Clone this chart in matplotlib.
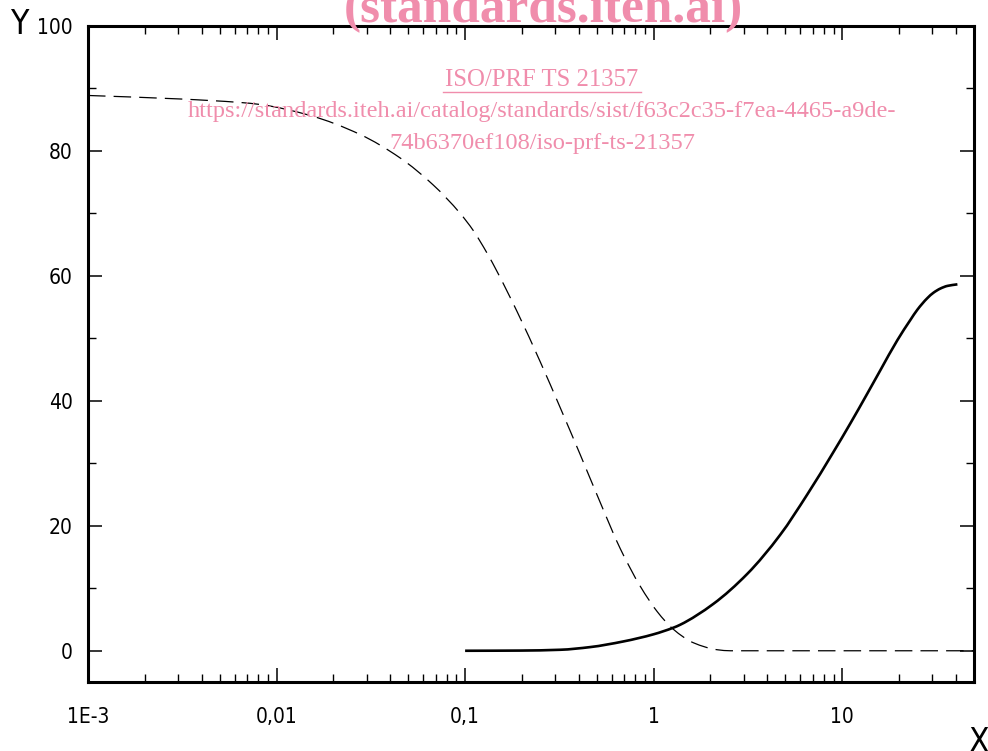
import matplotlib
matplotlib.use('Agg')
import numpy as np
import matplotlib.pyplot as plt
from matplotlib.ticker import FixedLocator, FixedFormatter, NullFormatter
from matplotlib.lines import Line2D
from matplotlib.path import Path
from matplotlib.patches import PathPatch

# ---- data ----
dashed_x = [0.001, 0.003075, 0.006401, 0.008177, 0.01506, 0.02774, 0.04523, 0.06772,
            0.09418, 0.1104, 0.1310, 0.1481, 0.1890, 0.2504, 0.3198, 0.4083, 0.5214,
            0.6657, 0.8502, 1.046, 1.272, 1.625, 2.178, 2.553, 50]
dashed_y = [88.88, 88.32, 87.76, 87.44, 85.68, 82.64, 78.88, 74.56,
            70.0, 67.28, 63.6, 60.64, 54.24, 46.24, 38.88, 31.36, 23.7,
            16.32, 10.3, 6.24, 3.44, 1.28, 0.16, 0.0, 0.0]

solid_x = [0.1, 0.196, 0.3198, 0.4613, 0.6906, 1.0, 1.269, 1.382, 2.07, 3.135, 4.693,
           6.528, 8.97, 11.04, 13.59, 15.94, 19.61, 22.99, 25.04, 28.30, 30.45,
           33.18, 36.14, 40.83]
solid_y = [0.0, 0.03, 0.16, 0.59, 1.49, 2.64, 3.68, 4.16, 7.49, 12.3, 18.57,
           25.02, 31.78, 36.38, 41.17, 44.91, 49.71, 52.95, 54.59, 56.45, 57.3,
           57.98, 58.4, 58.65]

x_major = [0.001, 0.01, 0.1, 1, 10]
x_labels = ["1E-3", "0,01", "0,1", "1", "10"]
x_minor = [m * d for d in [0.001, 0.01, 0.1, 1] for m in range(2, 10)] + [20, 30, 40]
y_major = [0, 20, 40, 60, 80, 100]
y_labels = ["0", "20", "40", "60", "80", "100"]
y_minor = [10, 30, 50, 70, 90]


def smooth_path(xs, ys):
    """Monotone cubic (PCHIP) through the read points, drawn as Bezier segments
    in log10(x) space so matplotlib renders a smooth curve."""
    u = np.log10(np.asarray(xs, float))
    y = np.asarray(ys, float)
    h = np.diff(u)
    delta = np.diff(y) / h
    n = len(u)
    d = np.zeros(n)
    for k in range(1, n - 1):
        if delta[k - 1] * delta[k] <= 0:
            d[k] = 0.0
        else:
            w1 = 2 * h[k] + h[k - 1]
            w2 = h[k] + 2 * h[k - 1]
            d[k] = (w1 + w2) / (w1 / delta[k - 1] + w2 / delta[k])
    d[0] = delta[0]
    d[-1] = delta[-1]
    verts = [(10 ** u[0], y[0])]
    codes = [Path.MOVETO]
    for k in range(n - 1):
        c1 = (u[k] + h[k] / 3, y[k] + d[k] * h[k] / 3)
        c2 = (u[k + 1] - h[k] / 3, y[k + 1] - d[k + 1] * h[k] / 3)
        verts += [(10 ** c1[0], c1[1]), (10 ** c2[0], c2[1]), (10 ** u[k + 1], y[k + 1])]
        codes += [Path.CURVE4] * 3
    return Path(verts, codes)


W, H = 988, 751
fig = plt.figure(figsize=(W / 100, H / 100), dpi=100)
ax = fig.add_axes([88 / W, 1 - 682 / H, (974 - 88) / W, (682 - 26) / H])

ax.set_xscale('log')
ax.set_xlim(0.001, 50)
ax.set_ylim(-5, 100)

ax.add_patch(PathPatch(smooth_path(dashed_x, dashed_y), facecolor='none',
                       edgecolor='black', lw=0.9, linestyle=(0, (14, 6.5))))
ax.add_patch(PathPatch(smooth_path(solid_x, solid_y), facecolor='none',
                       edgecolor='black', lw=1.9, capstyle='butt'))

ax.xaxis.set_major_locator(FixedLocator(x_major))
ax.xaxis.set_major_formatter(FixedFormatter(x_labels))
ax.xaxis.set_minor_locator(FixedLocator(x_minor))
ax.xaxis.set_minor_formatter(NullFormatter())
ax.yaxis.set_major_locator(FixedLocator(y_major))
ax.yaxis.set_major_formatter(FixedFormatter(y_labels))
ax.yaxis.set_minor_locator(FixedLocator(y_minor))

ax.tick_params(axis='both', which='major', direction='in', length=10, width=1.1,
               top=True, right=True, labelsize=15)
ax.tick_params(axis='both', which='minor', direction='in', length=5.5, width=1.0,
               top=True, right=True)
ax.tick_params(axis='x', which='major', pad=18)
ax.tick_params(axis='y', which='major', pad=11)
for lab in ax.get_xticklabels() + ax.get_yticklabels():
    lab.set_fontstretch('condensed')

for s in ax.spines.values():
    s.set_linewidth(2.2)

# axis letters
fig.text(19 / W, 1 - 25 / H, "Y", fontsize=24, ha='center', va='center', fontstretch='condensed')
fig.text(978 / W, 1 - 742 / H, "X", fontsize=24, ha='center', va='center', fontstretch='condensed')

# watermark texts
pink = '#f08dac'
fig.text(543 / W, 1 - 22 / H, "(standards.iteh.ai)", fontsize=37, fontweight='bold',
         family='Liberation Serif', color=pink, ha='center', va='baseline')
fig.text(542 / W, 1 - 80 / H, "ISO/PRF TS 21357", fontsize=17.8,
         family='Liberation Serif', color=pink, ha='center', va='center')
fig.add_artist(Line2D([443 / W, 641 / W], [1 - 92 / H, 1 - 92 / H], color=pink, lw=1.0,
                      transform=fig.transFigure))
fig.text(542 / W, 1 - 112 / H,
         "https://standards.iteh.ai/catalog/standards/sist/f63c2c35-f7ea-4465-a9de-",
         fontsize=17.6, family='Liberation Serif', color=pink, ha='center', va='center')
fig.text(542 / W, 1 - 144 / H, "74b6370ef108/iso-prf-ts-21357", fontsize=17.6,
         family='Liberation Serif', color=pink, ha='center', va='center')

fig.savefig('out.png', dpi=100)
